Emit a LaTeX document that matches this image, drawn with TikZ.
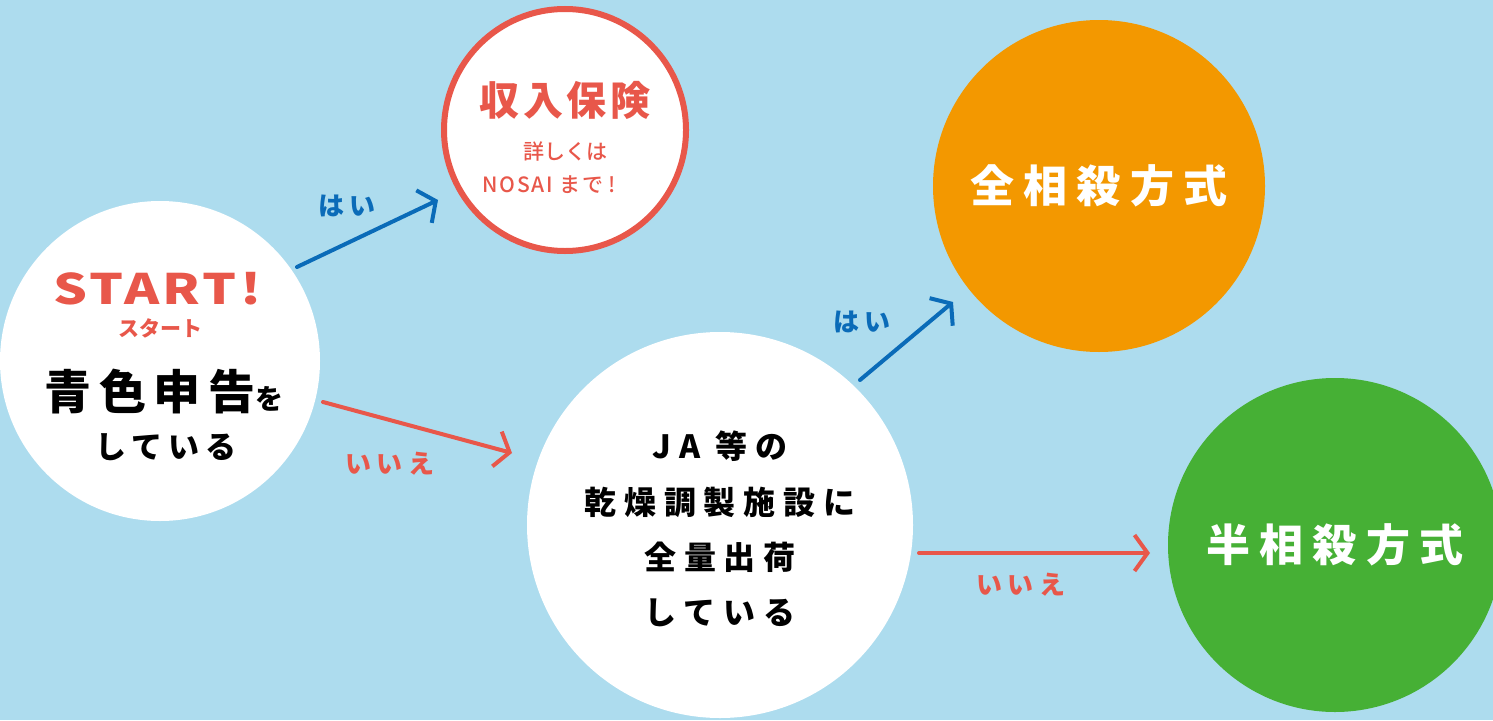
\documentclass[tikz,border=0pt]{standalone}
\usepackage{fontspec}
\setmainfont{Noto Sans CJK JP}
\newfontfamily\jpb{Noto Sans CJK JP Black}
\newfontfamily\jpr{Noto Sans CJK JP Medium}
\usetikzlibrary{arrows.meta}
\definecolor{bg}{HTML}{ADDCEE}
\definecolor{rd}{HTML}{E8574A}
\definecolor{bl}{HTML}{0A6BB8}
\definecolor{og}{HTML}{F39800}
\definecolor{gr}{HTML}{46B035}
\tikzset{
  ball/.style={circle, minimum size=#1, inner sep=0pt},
  arr/.style={line width=4pt, line cap=round, -{Straight Barb[length=13pt,width=36pt,line width=4pt]}},
  lbl/.style={font=\jpb\fontsize{26}{26}\selectfont, inner sep=0pt},
  jat/.style={font=\jpb\fontsize{32}{32}\selectfont, inner sep=0pt},
}
\begin{document}
\begin{tikzpicture}[x=1pt,y=-1pt]
\fill[bg] (0,0) rectangle (1493,720);
\useasboundingbox (0,0) rectangle (1493,720);
% circles
\node[ball=320pt, fill=white] (start) at (160,361) {};
\node[ball=242pt, fill=white, draw=rd, line width=6pt] (ins) at (565,130) {};
\node[ball=332pt, fill=og] (zen) at (1099,186) {};
\node[ball=386pt, fill=white] (ja) at (720,525) {};
\node[ball=334pt, fill=gr] (han) at (1335,545) {};
% texts start
\node[text=rd, font=\jpb\fontsize{42}{42}\selectfont, inner sep=0pt] (t1) at (159,289) {\scalebox{1.27}[1]{\addfontfeatures{LetterSpace=6}START\textit{!}}};
\node[text=rd, font=\jpb\fontsize{21}{21}\selectfont, inner sep=0pt] (t2) at (160,328) {スタート};
\node[font=\jpb\fontsize{47}{47}\selectfont, inner sep=0pt, anchor=base] (t3) at (164,409) {\addfontfeatures{LetterSpace=16}青色申告{\fontsize{28}{28}\selectfont を}};
\node[font=\jpb\fontsize{31}{31}\selectfont, inner sep=0pt] (t4) at (166,447) {\addfontfeatures{LetterSpace=20}している};
% insurance
\node[text=rd, font=\jpb\fontsize{40}{40}\selectfont, inner sep=0pt] (i1) at (565,100) {\addfontfeatures{LetterSpace=9}収入保険};
\node[text=rd, font=\jpr\fontsize{21}{21}\selectfont, inner sep=0pt] (i2) at (565,151) {詳しくは};
\node[text=rd, font=\jpr\fontsize{21}{21}\selectfont, inner sep=0pt] (i3) at (543,185) {\addfontfeatures{LetterSpace=9}NOSAI まで};
\node[text=rd, font=\jpr\fontsize{21}{21}\selectfont, inner sep=0pt, anchor=west] (i4) at ([xshift=4pt]i3.east) {\textit{!}};
% results
\node[text=white, font=\jpb\fontsize{44}{44}\selectfont, inner sep=0pt] (z1) at (1099,186) {\addfontfeatures{LetterSpace=21}全相殺方式};
\node[text=white, font=\jpb\fontsize{44}{44}\selectfont, inner sep=0pt] (h1) at (1335,545) {\addfontfeatures{LetterSpace=21}半相殺方式};
% JA
\node[jat] (j1) at (720,446) {\addfontfeatures{LetterSpace=24}JA 等の};
\node[jat] (j2) at (720,502) {\addfontfeatures{LetterSpace=24}乾燥調製施設に};
\node[jat] (j3) at (720,557) {\addfontfeatures{LetterSpace=24}全量出荷};
\node[jat] (j4) at (720,613) {\addfontfeatures{LetterSpace=24}している};
% arrows
\coordinate (a1s) at (297,267); \coordinate (a1e) at (438,200);
\coordinate (a2s) at (323,402); \coordinate (a2e) at (512,453);
\coordinate (a3s) at (860,380); \coordinate (a3e) at (953,302);
\coordinate (a4s) at (919,553); \coordinate (a4e) at (1150,553);
\draw[arr, bl] (a1s) -- (a1e);
\draw[arr, rd] (a2s) -- (a2e);
\draw[arr, bl] (a3s) -- (a3e);
\draw[arr, rd] (a4s) -- (a4e);
\node[lbl, text=bl] (l1) at (347,206) {\addfontfeatures{LetterSpace=18}はい};
\node[lbl, text=rd] (l2) at (390,464) {\addfontfeatures{LetterSpace=20}いいえ};
\node[lbl, text=bl] (l3) at (862,322) {\addfontfeatures{LetterSpace=18}はい};
\node[lbl, text=rd] (l4) at (1021,585) {\addfontfeatures{LetterSpace=20}いいえ};
\end{tikzpicture}
\end{document}
